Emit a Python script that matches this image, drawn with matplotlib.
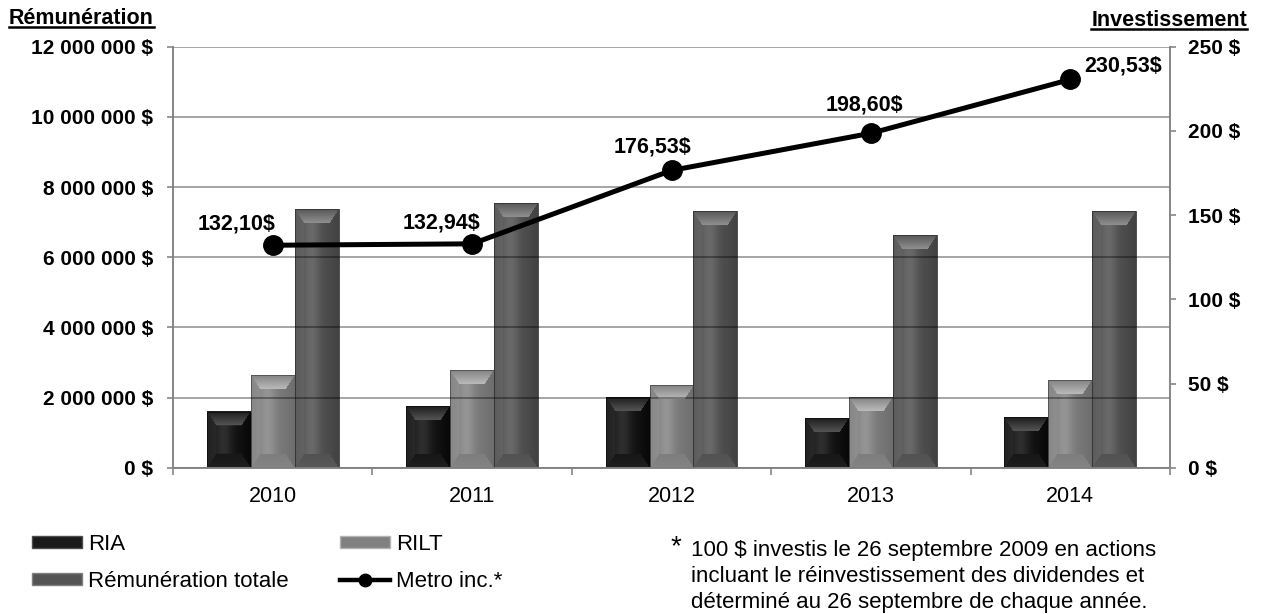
import numpy as np
import matplotlib
matplotlib.use("Agg")
import matplotlib.pyplot as plt
from matplotlib.lines import Line2D
from matplotlib.patches import Patch

# ---------- donnees ----------
annees = ["2010", "2011", "2012", "2013", "2014"]
ria = [1600000, 1760000, 2020000, 1420000, 1450000]
rilt = [2650000, 2790000, 2360000, 2020000, 2500000]
remun_totale = [7370000, 7540000, 7310000, 6630000, 7310000]
metro = [132.10, 132.94, 176.53, 198.60, 230.53]
metro_labels = ["132,10$", "132,94$", "176,53$", "198,60$", "230,53$"]

noms = ["RIA", "RILT", "Rémunération totale"]
gris = [0.10, 0.50, 0.33]

plt.rcParams["font.family"] = ["Liberation Sans", "DejaVu Sans"]

fig = plt.figure(figsize=(12.62, 6.14), dpi=100)
ax = fig.add_axes([173 / 1262, 1 - 467.7 / 614, 997 / 1262, (467.7 - 46.7) / 614])
ax2 = ax.twinx()

x = np.arange(len(annees))
w = 0.22
ax.set_xlim(-0.5, len(annees) - 0.5)
ax.set_ylim(0, 12000000)
ax.set_autoscale_on(False)


def biseau(hpx, wpx, base, bv=14, bh=9):
    # petite image "biseautee" pour imiter les barres Excel
    i, j = np.mgrid[0:hpx, 0:wpx].astype(float)
    dt = i / bv
    db = (hpx - 1 - i) / bv
    dl = j / bh
    dr = (wpx - 1 - j) / bh
    m = np.minimum(np.minimum(dt, db), np.minimum(dl, dr))
    u = j / max(wpx - 1, 1)
    v = base + 0.10 * np.exp(-((u - 0.38) / 0.2) ** 2) - 0.05 * u
    cote = m < 1
    top = cote & (dt == m)
    bot = cote & (db == m) & ~top
    left = cote & (dl == m) & ~top & ~bot
    right = cote & ~top & ~bot & ~left
    v = np.where(top, base + 0.02 + 0.22 * dt, v)
    v = np.where(bot, base + 0.02 - 0.03 * db, v)
    v = np.where(left, base + 0.03 + 0.03 * dl, v)
    v = np.where(right, base - 0.07 + 0.03 * dr, v)
    v = np.clip(v, 0, 1)
    return np.dstack([v, v, v])


fig.canvas.draw()
for k, (serie, g) in enumerate(zip([ria, rilt, remun_totale], gris)):
    pos = x + (k - 1) * w
    for xc, val in zip(pos, serie):
        x0, x1 = xc - w / 2, xc + w / 2
        (px0, py0), (px1, py1) = ax.transData.transform([(x0, 0), (x1, val)])
        img = biseau(int(round(py1 - py0)), int(round(px1 - px0)), g)
        ax.imshow(img, extent=(x0, x1, 0, val), aspect="auto", zorder=2,
                  interpolation="bilinear")
        ax.add_patch(plt.Rectangle((x0, 0), w, val, fill=False,
                                   edgecolor=(g * 0.6,) * 3, lw=0.6, zorder=2.5))

ax.set_xlim(-0.5, len(annees) - 0.5)
ax.set_ylim(0, 12000000)

# axe gauche
yt = np.arange(0, 12000001, 2000000)
ax.set_yticks(yt)
ax.set_yticklabels([("{:,}".format(v).replace(",", " ") + " $") for v in yt],
                   fontsize=15, fontweight="bold")
ax.grid(axis="y", color="black", alpha=0.45, lw=1.1, zorder=3)
ax.set_axisbelow(False)
ax.set_xticks(x)
ax.set_xticklabels(annees, fontsize=15.5)
ax.set_xticks(np.arange(-0.5, len(annees)), minor=True)
ax.tick_params(axis="x", which="major", length=0, pad=13)
ax.tick_params(axis="x", which="minor", length=5, color="#868686", width=1.2)
ax.tick_params(axis="y", length=4.3, color="#868686", width=1.2, pad=10)
for a in (ax, ax2):
    a.spines["top"].set_visible(False)
    for s in ["left", "bottom", "right"]:
        a.spines[s].set_color("#868686")
        a.spines[s].set_linewidth(1.2)

# axe droit: investissement
ax2.plot(x, metro, color="black", lw=3.6, marker="o", markersize=14, zorder=5)
ax2.set_ylim(0, 250)
ax2.set_yticks(np.arange(0, 251, 50))
ax2.set_yticklabels(["%d $" % v for v in np.arange(0, 251, 50)],
                    fontsize=15, fontweight="bold")
ax2.tick_params(axis="y", length=4.3, color="#868686", width=1.2, pad=8.5)

decal = [(-26, 15), (-22, 15), (-14, 17), (-5, 20), (38, 10)]
for xi, val, lab, d in zip(x, metro, metro_labels, decal):
    ax2.annotate(lab, (xi, val), xytext=d, textcoords="offset points",
                 ha="center", va="center", fontsize=15.5, fontweight="bold")

# titres d'axes soulignes
t1 = fig.text(9 / 1262, 1 - 18 / 614, "Rémunération", fontsize=15.5,
              fontweight="bold", ha="left", va="center")
t2 = fig.text(1247 / 1262, 1 - 20 / 614, "Investissement", fontsize=15.5,
              fontweight="bold", ha="right", va="center")
fig.canvas.draw()
r = fig.canvas.get_renderer()
for t in (t1, t2):
    bb = t.get_window_extent(r).transformed(fig.transFigure.inverted())
    fig.add_artist(Line2D([bb.x0, bb.x1], [bb.y0 + 0.002, bb.y0 + 0.002],
                          color="black", lw=1.8, transform=fig.transFigure))

# legende
poignees = [
    Patch(facecolor=(gris[0],) * 3, edgecolor=(0.3,) * 3),
    Patch(facecolor=(gris[2],) * 3, edgecolor=(0.5,) * 3),
    Patch(facecolor=(gris[1],) * 3, edgecolor=(0.7,) * 3),
    Line2D([0], [0], color="black", lw=3.2, marker="o", markersize=9),
]
fig.legend(poignees, ["RIA", noms[2], "RILT", "Metro inc.*"], ncol=2,
           loc="upper left", bbox_to_anchor=(32 / 1262, 1 - 534 / 614),
           frameon=False, fontsize=16, handlelength=2.25, handleheight=0.45,
           handletextpad=0.27, columnspacing=2.3, labelspacing=0.7,
           borderpad=0, borderaxespad=0)

# note
fig.text(671 / 1262, 1 - 547 / 614, "*", fontsize=20, ha="left", va="center")
fig.text(691 / 1262, 1 - 540 / 614,
         "100 $ investis le 26 septembre 2009 en actions\n"
         "incluant le réinvestissement des dividendes et\n"
         "déterminé au 26 septembre de chaque année.",
         fontsize=16, ha="left", va="top", linespacing=1.3)

fig.savefig("out.png", dpi=100)
